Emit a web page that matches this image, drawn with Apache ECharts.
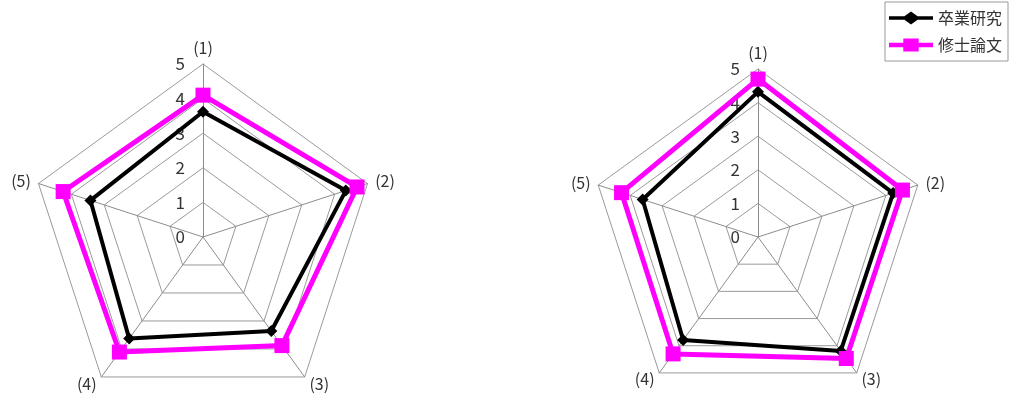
<!DOCTYPE html>
<html><head><meta charset="utf-8">
<script src="https://cdn.jsdelivr.net/npm/echarts@6/dist/echarts.min.js"></script>
<style>html,body{margin:0;padding:0;background:#fff}#c{width:1013px;height:398px}</style>
</head><body><div id="c"></div>
<script>
const axes = ['(1)', '(2)', '(3)', '(4)', '(5)'];
const seriesNames = ['卒業研究', '修士論文'];
const leftGrad = [3.62, 4.34, 3.36, 3.63, 3.42];
const leftMaster = [4.1, 4.68, 3.88, 4.11, 4.25];
const rightGrad = [4.32, 4.23, 4.19, 3.79, 3.61];
const rightMaster = [4.7, 4.52, 4.47, 4.3, 4.27];
const axisMax = 5;

// ECharts radar runs counter-clockwise; reorder so axes run clockwise
const order = [0, 4, 3, 2, 1];
const reorder = arr => order.map(i => arr[i]);

const font = '"Noto Sans CJK JP", "DejaVu Sans", sans-serif';
function indicators() {
  return reorder(axes).map((a, i) => {
    const o = { name: a, min: 0, max: axisMax };
    if (i === 0) o.axisLabel = { show: true, fontSize: 17, color: '#333', fontFamily: font, margin: 18, showMinLabel: true, showMaxLabel: true };
    return o;
  });
}
function radar(center, r) {
  return {
    center: center, radius: r, startAngle: 90, shape: 'polygon', splitNumber: 5,
    indicator: indicators(),
    axisName: { color: '#333', fontSize: 16, fontFamily: font },
    nameGap: 8,
    axisLine: { lineStyle: { color: '#8c8c8c', width: 1 } },
    splitLine: { lineStyle: { color: '#9a9a9a', width: 1 } },
    splitArea: { show: false },
    axisLabel: { show: false }
  };
}
function series(ri, g, m) {
  return {
    type: 'radar', radarIndex: ri, z: 3,
    data: [
      { name: seriesNames[0], value: reorder(g), symbol: 'diamond', symbolSize: 12,
        lineStyle: { color: '#000', width: 4 }, itemStyle: { color: '#000' } },
      { name: seriesNames[1], value: reorder(m), symbol: 'rect', symbolSize: 15,
        lineStyle: { color: '#ff00ff', width: 5 }, itemStyle: { color: '#ff00ff' } }
    ]
  };
}
const blackIcon = 'path://M0,4.5 L14,4.5 L20,0 L26,4.5 L40,4.5 L40,7.5 L26,7.5 L20,12 L14,7.5 L0,7.5 Z';
const pinkIcon = 'path://M0,4 L13,4 L13,0 L27,0 L27,4 L40,4 L40,8 L27,8 L27,12 L13,12 L13,8 L0,8 Z';
const chart = echarts.init(document.getElementById('c'), null, { renderer: 'canvas' });
chart.setOption({
  animation: false,
  color: ['#000', '#ff00ff'],
  legend: {
    right: 5, top: 2, orient: 'vertical', itemGap: 11, itemWidth: 44, itemHeight: 14,
    padding: [8, 6, 8, 4],
    borderColor: '#999', borderWidth: 1,
    textStyle: { fontSize: 16, color: '#333', fontFamily: font },
    data: [
      { name: seriesNames[0], icon: blackIcon, itemStyle: { color: '#000' } },
      { name: seriesNames[1], icon: pinkIcon, itemStyle: { color: '#ff00ff' } }
    ]
  },
  radar: [radar([203, 237], 173), radar([758, 237], 168)],
  series: [series(0, leftGrad, leftMaster), series(1, rightGrad, rightMaster)]
});
</script></body></html>
